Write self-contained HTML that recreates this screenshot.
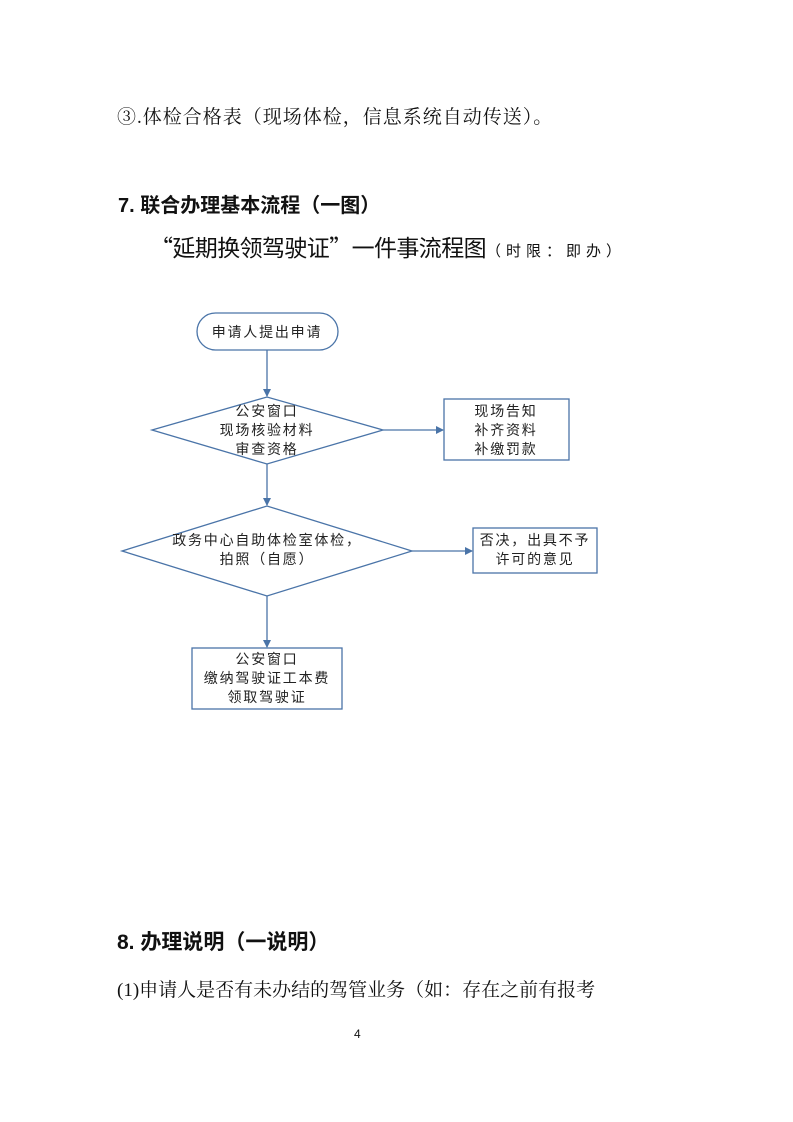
<!DOCTYPE html>
<html><head><meta charset="utf-8"><style>
body{margin:0;width:793px;height:1122px;background:#fff;position:relative;overflow:hidden;font-family:"Liberation Serif","Noto Serif CJK SC","Noto Sans CJK SC",serif;color:#111}
.t{position:absolute;white-space:nowrap;line-height:1}
.b{font-family:"Liberation Sans","Noto Sans CJK SC",sans-serif;font-weight:bold}
</style></head><body>
<div class="t" style="left:117px;top:108px;font-size:19px;letter-spacing:1.0px">③.体检合格表（现场体检，信息系统自动传送）。</div>
<div class="t b" style="left:118px;top:196px;font-size:20px">7. 联合办理基本流程（一图）</div>
<div class="t" style="left:150px;top:235px;font-size:23px;letter-spacing:-0.6px;font-family:'Noto Sans CJK SC',sans-serif">“延期换领驾驶证”一件事流程图<span style="font-size:15px;letter-spacing:5px">（时限：即办）</span></div>

<svg style="position:absolute;left:0;top:0" width="793" height="1122" font-family="Liberation Sans, Noto Sans CJK SC, sans-serif" font-size="14" fill="#222">
<defs><marker id="a" markerWidth="8" markerHeight="8" refX="7" refY="4" orient="auto" markerUnits="userSpaceOnUse"><path d="M0,0L8,4L0,8z" fill="#4a74a8"/></marker></defs>
<g stroke="#4a74a8" stroke-width="1.3" fill="none">
<rect x="197" y="313" width="141" height="37" rx="18.5" fill="#fff"/>
<line x1="267" y1="350" x2="267" y2="396" marker-end="url(#a)"/>
<polygon points="152,430 267,397 383,430 267,464" fill="#fff"/>
<line x1="383" y1="430" x2="443" y2="430" marker-end="url(#a)"/>
<rect x="444" y="399" width="125" height="61" fill="#fff"/>
<line x1="267" y1="464" x2="267" y2="505" marker-end="url(#a)"/>
<polygon points="122,551 267,506 412,551 267,596" fill="#fff"/>
<line x1="412" y1="551" x2="472" y2="551" marker-end="url(#a)"/>
<rect x="473" y="528" width="124" height="45" fill="#fff"/>
<line x1="267" y1="596" x2="267" y2="647" marker-end="url(#a)"/>
<rect x="192" y="648" width="150" height="61" fill="#fff"/>
</g>
<g text-anchor="middle" letter-spacing="1.8">
<text x="267" y="337">申请人提出申请</text>
<text x="267" y="416">公安窗口</text>
<text x="267" y="435">现场核验材料</text>
<text x="267" y="454">审查资格</text>
<text x="506" y="416">现场告知</text>
<text x="506" y="435">补齐资料</text>
<text x="506" y="454">补缴罚款</text>
<text x="267" y="545">政务中心自助体检室体检，</text>
<text x="267" y="564">拍照（自愿）</text>
<text x="535" y="545">否决，出具不予</text>
<text x="535" y="564">许可的意见</text>
<text x="267" y="664">公安窗口</text>
<text x="267" y="683">缴纳驾驶证工本费</text>
<text x="267" y="702">领取驾驶证</text>
</g>
</svg>

<div class="t b" style="left:117px;top:932px;font-size:21px">8. 办理说明（一说明）</div>
<div class="t" style="left:117px;top:981px;font-size:19px;letter-spacing:0px">(1)申请人是否有未办结的驾管业务（如：存在之前有报考</div>
<div class="t" style="left:354px;top:1028px;font-size:12px;font-family:'Liberation Sans',sans-serif">4</div>
</body></html>
